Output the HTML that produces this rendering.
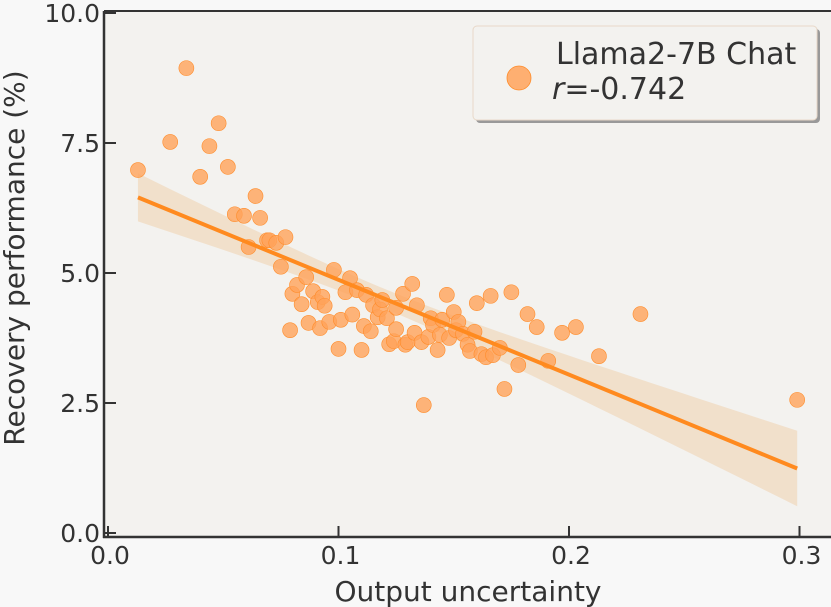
<!DOCTYPE html>
<html><head><meta charset="utf-8"><style>
html,body{margin:0;padding:0;background:#f8f8f8;}
svg{display:block;font-family:"DejaVu Sans","Liberation Sans",sans-serif;}
</style></head><body>
<svg id="chart" width="831" height="607" viewBox="0 0 831 607" xmlns="http://www.w3.org/2000/svg">
<rect x="104" y="11" width="740" height="526" fill="#f3f2ef"/>
<g id="band"></g>
<g id="points"></g>
<g id="fit"></g>
<line x1="104" y1="11" x2="104" y2="538" stroke="#333" stroke-width="2.5"/>
<line x1="103" y1="537" x2="831" y2="537" stroke="#333" stroke-width="2.5"/>
<line x1="104" y1="11" x2="831" y2="11" stroke="#333" stroke-width="2"/>
<g id="ticks"></g>
<text x="468" y="601" text-anchor="middle" font-size="28" fill="#333">Output uncertainty</text>
<text transform="translate(24,258) rotate(-90)" text-anchor="middle" font-size="28" fill="#333">Recovery performance (%)</text>
<g>
<rect x="476" y="29" width="344" height="94" rx="4" fill="#999"/>
<rect x="473" y="26" width="344" height="94" rx="4" fill="#f3f2ef" stroke="#e8d8c8" stroke-width="1"/>
<circle cx="519" cy="78" r="12" fill="#ffa35a" fill-opacity="0.85" stroke="#ff8c2a" stroke-width="0.8"/>
<text x="556" y="64" font-size="30" fill="#333">Llama2-7B Chat</text>
<text x="552" y="99" font-size="30" fill="#333"><tspan font-style="italic">r</tspan>=-0.742</text>
</g>
</svg>
<script>
const xs=[0.013,0.027,0.034,0.040,0.044,0.048,0.052,0.055,0.059,0.061,0.064,0.066,0.069,0.070,0.073,0.075,0.077,0.079,0.080,0.082,0.084,0.086,0.087,0.089,0.091,0.092,0.093,0.094,0.096,0.098,0.100,0.101,0.103,0.105,0.106,0.108,0.110,0.111,0.112,0.114,0.115,0.117,0.118,0.119,0.121,0.122,0.124,0.125,0.125,0.128,0.129,0.130,0.132,0.133,0.134,0.136,0.137,0.139,0.140,0.141,0.143,0.144,0.145,0.147,0.148,0.150,0.151,0.152,0.154,0.156,0.157,0.159,0.160,0.162,0.164,0.166,0.167,0.170,0.172,0.175,0.178,0.182,0.186,0.191,0.197,0.203,0.213,0.231,0.299];
const ys=[6.98,7.52,8.94,6.85,7.44,7.88,7.04,6.13,6.10,5.50,6.48,6.06,5.63,5.63,5.58,5.12,5.69,3.90,4.60,4.77,4.40,4.92,4.04,4.65,4.44,3.94,4.54,4.37,4.06,5.06,3.54,4.10,4.63,4.90,4.20,4.67,3.52,3.98,4.58,3.88,4.38,4.15,4.30,4.48,4.13,3.63,3.69,4.33,3.92,4.60,3.62,3.67,4.79,3.85,4.38,3.67,2.46,3.77,4.13,4.00,3.52,3.81,4.10,4.58,3.75,4.25,3.90,4.06,3.83,3.62,3.50,3.87,4.42,3.44,3.38,4.56,3.42,3.56,2.77,4.63,3.23,4.21,3.96,3.31,3.85,3.96,3.40,4.21,2.56];
const xTicks=[0.0,0.1,0.2,0.3];
const xTickLabels=["0.0","0.1","0.2","0.3"];
const yTicks=[0,2.5,5,7.5,10];
const yTickLabels=["0.0","2.5","5.0","7.5","10.0"];
const NS="http://www.w3.org/2000/svg";
const X=v=>108+v*2305, Y=v=>533-v*52;
function mk(tag,attrs,parent){const e=document.createElementNS(NS,tag);for(const k in attrs)e.setAttribute(k,attrs[k]);parent.appendChild(e);return e;}
const n=xs.length;let mx=0,my=0;xs.forEach((x,i)=>{mx+=x;my+=ys[i];});mx/=n;my/=n;
let sxx=0,sxy=0;xs.forEach((x,i)=>{sxx+=(x-mx)**2;sxy+=(x-mx)*(ys[i]-my);});
const b=sxy/sxx,a=my-b*mx;let sse=0;xs.forEach((x,i)=>{sse+=(ys[i]-a-b*x)**2;});
const s=Math.sqrt(sse/(n-2));
const x0=Math.min(...xs),x1=Math.max(...xs);
const up=[],dn=[];
for(let k=0;k<=40;k++){const x=x0+(x1-x0)*k/40;const h=2.3*s*Math.sqrt(1/n+(x-mx)**2/sxx);const yh=a+b*x;up.push(X(x)+","+Y(yh+h));dn.unshift(X(x)+","+Y(yh-h));}
const band=mk('polygon',{points:up.concat(dn).join(' '),fill:'#f0d9bf',opacity:'0.75'},document.getElementById('band'));


const pg=document.getElementById('points');
xs.forEach((x,i)=>{const c=mk('circle',{cx:X(x),cy:Y(ys[i]),r:7.5,fill:'#ffa35a','fill-opacity':0.8,stroke:'#ff8c2a','stroke-width':0.6},pg);

});
const ln=mk('line',{x1:X(x0),y1:Y(a+b*x0),x2:X(x1),y2:Y(a+b*x1),stroke:'#ff8a1f','stroke-width':4},document.getElementById('fit'));


const tg=document.getElementById('ticks');
xTicks.forEach((v,i)=>{mk('line',{x1:X(v),y1:537,x2:X(v),y2:526,stroke:'#333','stroke-width':2},tg);
const t=mk('text',{x:X(v)+2,y:564,'text-anchor':'middle','font-size':25,fill:'#333'},tg);t.textContent=xTickLabels[i];

});
yTicks.forEach((v,i)=>{mk('line',{x1:104,y1:Y(v),x2:116,y2:Y(v),stroke:'#333','stroke-width':2},tg);
const t=mk('text',{x:100,y:Y(v)+9,'text-anchor':'end','font-size':25,fill:'#333'},tg);t.textContent=yTickLabels[i];

});
</script>
</body></html>
